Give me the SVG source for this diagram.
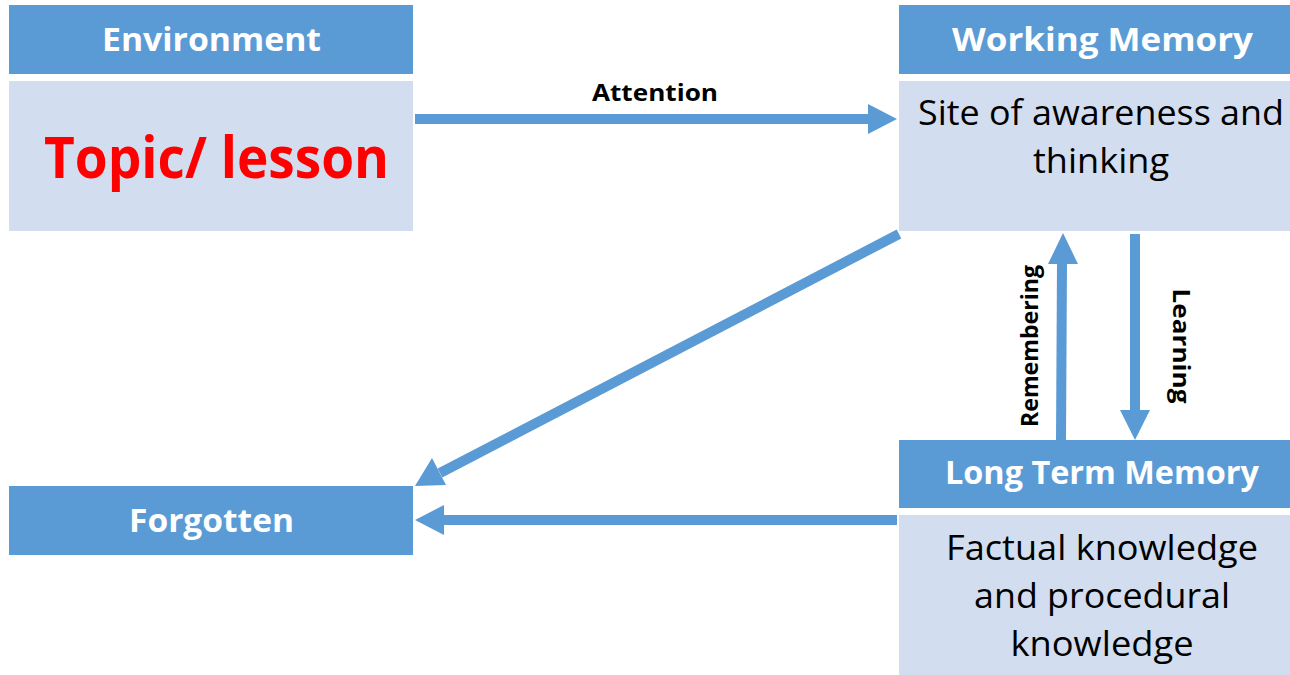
<svg xmlns="http://www.w3.org/2000/svg" width="1290" height="675" viewBox="0 0 1290 675">
<style>
.hdr{fill:#5B9BD5}
.body{fill:#D2DEEF}
.ht{font-family:"Open Sans","Noto Sans",sans-serif;font-weight:bold;font-size:33px;fill:#fff;text-anchor:middle}
.bt{font-family:"Open Sans","Noto Sans",sans-serif;font-size:35px;fill:#000;text-anchor:middle}
.lbl{font-family:"Open Sans","Noto Sans",sans-serif;font-weight:bold;font-size:23px;fill:#000;text-anchor:middle}
.conn{stroke:#5B9BD5;stroke-width:10;fill:none}
.head{fill:#5B9BD5}
</style>
<rect width="1290" height="675" fill="#fff"/>
<g id="environment">
<rect class="hdr" x="9" y="5" width="404" height="69"/>
<text class="ht" x="211.5" y="51" textLength="219" lengthAdjust="spacingAndGlyphs">Environment</text>
<rect class="body" x="9" y="81" width="404" height="150"/>
<text x="216.5" y="178" font-family="'URW Gothic','Open Sans','Noto Sans',sans-serif" font-weight="bold" font-size="58" fill="#FF0000" text-anchor="middle" textLength="345" lengthAdjust="spacingAndGlyphs">Topic/ lesson</text>
</g>
<g id="working-memory">
<rect class="hdr" x="899" y="5" width="391" height="69"/>
<text class="ht" x="1102.5" y="51" textLength="301" lengthAdjust="spacingAndGlyphs">Working Memory</text>
<rect class="body" x="899" y="81" width="391" height="150"/>
<text class="bt" x="1101" y="125" textLength="366" lengthAdjust="spacingAndGlyphs">Site of awareness and</text>
<text class="bt" x="1101" y="173" textLength="136" lengthAdjust="spacingAndGlyphs">thinking</text>
</g>
<g id="long-term-memory">
<rect class="hdr" x="899" y="440" width="391" height="68"/>
<text class="ht" x="1102" y="484" textLength="314" lengthAdjust="spacingAndGlyphs">Long Term Memory</text>
<rect class="body" x="899" y="515" width="391" height="160"/>
<text class="bt" x="1102" y="560" textLength="312" lengthAdjust="spacingAndGlyphs">Factual knowledge</text>
<text class="bt" x="1102" y="608" textLength="256" lengthAdjust="spacingAndGlyphs">and procedural</text>
<text class="bt" x="1102" y="656" textLength="183" lengthAdjust="spacingAndGlyphs">knowledge</text>
</g>
<g id="forgotten">
<rect class="hdr" x="9" y="486" width="404" height="69"/>
<text class="ht" x="211.5" y="532" textLength="165" lengthAdjust="spacingAndGlyphs">Forgotten</text>
</g>
<g id="connectors">
<line class="conn" x1="415" y1="119" x2="870" y2="119"/>
<polygon class="head" points="868,104 897,119 868,134"/>
<text class="lbl" x="655" y="101" textLength="126" lengthAdjust="spacingAndGlyphs">Attention</text>
<line class="conn" x1="899" y1="234" x2="440" y2="473"/>
<polygon class="head" points="415,486 432,458 446,485"/>
<line class="conn" x1="897" y1="520" x2="442" y2="520"/>
<polygon class="head" points="415,520 444,505 444,535"/>
<line class="conn" x1="1061" y1="440" x2="1062" y2="262"/>
<polygon class="head" points="1063,233 1048,264 1078,264"/>
<text class="lbl" transform="translate(1038,346) rotate(-90)" textLength="162" lengthAdjust="spacingAndGlyphs">Remembering</text>
<line class="conn" x1="1135" y1="234" x2="1135" y2="412"/>
<polygon class="head" points="1120,410 1150,410 1135,440"/>
<text class="lbl" transform="translate(1173,346) rotate(90)" textLength="115" lengthAdjust="spacingAndGlyphs">Learning</text>
</g>
</svg>
